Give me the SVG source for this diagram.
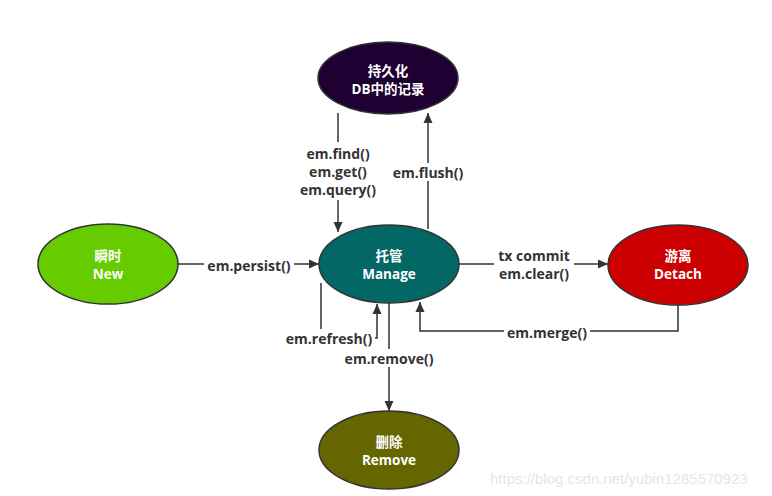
<svg xmlns="http://www.w3.org/2000/svg" width="772" height="496" viewBox="0 0 772 496">
<defs>
<marker id="arr" viewBox="0 0 10 10" refX="10" refY="5" markerWidth="10" markerHeight="10" markerUnits="userSpaceOnUse" orient="auto">
<path d="M0,0.5 L10,5 L0,9.5 z" fill="#333"/>
</marker>
<style>
.node{stroke:#333;stroke-width:1.5}
.nt{font-family:"Open Sans","Noto Sans CJK SC",sans-serif;font-weight:bold;font-size:13.5px;fill:#fff;text-anchor:middle;dominant-baseline:central}
.el{font-family:"Open Sans","Noto Sans CJK SC",sans-serif;font-weight:bold;font-size:14px;fill:#333;text-anchor:middle;dominant-baseline:central}
.ln{fill:none;stroke:#333;stroke-width:1.5}
.bg{fill:#fff}
.wm{font-family:"Liberation Sans",Arial,sans-serif;font-size:15px;fill:#e6e6e6}
</style>
</defs>
<rect width="772" height="496" fill="#fff"/>
<g id="connectors">
<path class="ln" d="M338,113 V232" marker-end="url(#arr)"/>
<path class="ln" d="M428,229 V113" marker-end="url(#arr)"/>
<path class="ln" d="M178,264 H319" marker-end="url(#arr)"/>
<path class="ln" d="M458,264 H608" marker-end="url(#arr)"/>
<path class="ln" d="M678,305 V331 H420 V302" marker-end="url(#arr)"/>
<path class="ln" d="M321,283 V338 H377 V304" marker-end="url(#arr)"/>
<path class="ln" d="M389,303 V411" marker-end="url(#arr)"/>
<rect class="bg" x="296" y="142" width="84" height="58"/>
<text class="el" x="338" y="153">em.find()</text>
<text class="el" x="338" y="171">em.get()</text>
<text class="el" x="338" y="189">em.query()</text>
<rect class="bg" x="390" y="163" width="76" height="18"/>
<text class="el" x="428" y="172">em.flush()</text>
<rect class="bg" x="204" y="256" width="90" height="18"/>
<text class="el" x="249" y="265">em.persist()</text>
<rect class="bg" x="494" y="245" width="80" height="38"/>
<text class="el" x="534" y="255">tx commit</text>
<text class="el" x="534" y="273">em.clear()</text>
<rect class="bg" x="504" y="323" width="86" height="18"/>
<text class="el" x="547" y="332">em.merge()</text>
<rect class="bg" x="283" y="329" width="92" height="18"/>
<text class="el" x="329" y="338">em.refresh()</text>
<rect class="bg" x="342" y="349" width="94" height="18"/>
<text class="el" x="389" y="358">em.remove()</text>
</g>
<g id="persist">
<ellipse class="node" cx="388" cy="78" rx="70" ry="36" fill="#1f0033"/>
<text class="nt" x="388" y="71">持久化</text>
<text class="nt" x="388" y="89">DB中的记录</text>
</g>
<g id="manage">
<ellipse class="node" cx="389" cy="264" rx="70" ry="39" fill="#036865"/>
<text class="nt" x="389" y="256">托管</text>
<text class="nt" x="389" y="274">Manage</text>
</g>
<g id="new">
<ellipse class="node" cx="108" cy="264" rx="70" ry="40" fill="#66cc00"/>
<text class="nt" x="108" y="256">瞬时</text>
<text class="nt" x="108" y="274">New</text>
</g>
<g id="detach">
<ellipse class="node" cx="678" cy="265" rx="70" ry="40" fill="#cc0000"/>
<text class="nt" x="678" y="256">游离</text>
<text class="nt" x="678" y="274">Detach</text>
</g>
<g id="remove">
<ellipse class="node" cx="389" cy="450" rx="70" ry="39" fill="#666600"/>
<text class="nt" x="389" y="442">删除</text>
<text class="nt" x="389" y="460">Remove</text>
</g>
<text class="wm" x="490" y="484">https://blog.csdn.net/yubin1285570923</text>
</svg>
